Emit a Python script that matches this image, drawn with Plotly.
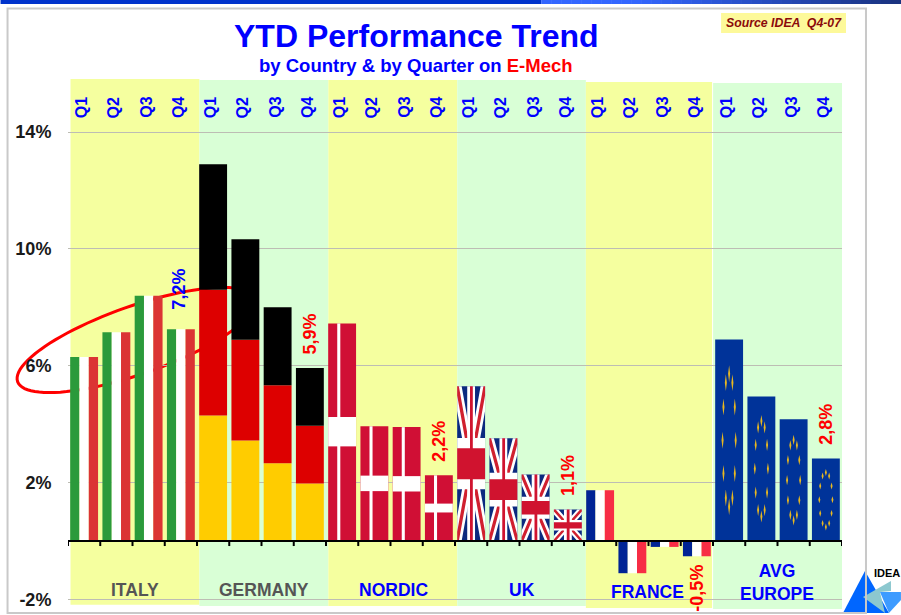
import math
import plotly.graph_objects as go

# ---------- data (YTD performance, %) ----------
quarters = ["Q1", "Q2", "Q3", "Q4"]
countries = ["ITALY", "GERMANY", "NORDIC", "UK", "FRANCE", "AVG<br>EUROPE"]
italy = [6.3, 7.15, 8.4, 7.25]
germany = [12.9, 10.33, 8.0, 5.92]
nordic = [7.45, 3.93, 3.9, 2.25]
uk = [5.3, 3.52, 2.28, 1.08]
france = [1.74, -1.1, -0.2, -0.52]
europe = [6.9, 4.95, 4.17, 2.83]
value_labels = ["7,2%", "5,9%", "2,2%", "1,1%", "-0,5%", "2,8%"]
label_colors = ["#0000ff", "#ff0000", "#ff0000", "#ff0000", "#ff0000", "#ff0000"]
y_ticks = [14, 10, 6, 2, -2]
y_tick_labels = ["14%", "10%", "6%", "2%", "-2%"]

# ---------- styling / layout constants ----------
W, H = 901, 615
L, R, T, B = 67.5, 842.0, 79.0, 609.0
Y_TOP, Y_BOT = 15.815, -2.325
BLUE = "#0000ff"
YEL, GRN = "#f5ff9f", "#d9ffd6"
BAR_W = 0.865
FONT = "Liberation Sans"


def fx(px):
    return (px - L) / (R - L)


def fy(py):
    return (B - py) / (B - T)


def rect(x0, y0, x1, y1, fill, line=None, lw=0):
    s = dict(type="rect", xref="paper", yref="paper", x0=fx(x0), x1=fx(x1),
             y0=fy(y0), y1=fy(y1), layer="below", fillcolor=fill,
             line=dict(width=lw, color=line or fill))
    return s


def poly(points, fill):
    d = "M " + " L ".join(f"{fx(a):.5f},{fy(b):.5f}" for a, b in points) + " Z"
    return dict(type="path", path=d, xref="paper", yref="paper", layer="below",
                fillcolor=fill, line=dict(width=0))


shapes = []
# top banner
shapes.append(rect(0, 0, 541, 4, "#0033cc"))
c0, c1 = (51, 102, 255), (26, 51, 128)
n = 36
for i in range(n):
    t = i / (n - 1)
    t2 = max(0, (t - 0.25) / 0.75)
    col = "rgb(%d,%d,%d)" % tuple(round(a + (b - a) * t2) for a, b in zip(c0, c1))
    shapes.append(rect(541 + i * 360 / n, 0, 541 + (i + 1) * 360 / n + 0.5, 4, col))

# background bands per country
bands = [(70, 199, 79, 604.7, YEL), (199, 328, 80, 606, GRN), (328, 457, 80, 606, YEL),
         (457, 585.7, 80, 606, GRN), (585.7, 712, 82, 608, YEL), (713, 842, 83, 609, GRN)]
for x0, x1, y0, y1, c in bands:
    shapes.append(rect(x0, y0, x1, y1, c))

# highlight ellipse (behind bars)
cx, cy, ra, rb, rot = 136, 340, 126, 34, math.radians(19.3)
pts = []
for k in range(96):
    a = 2 * math.pi * k / 96
    ex, ey = ra * math.cos(a), rb * math.sin(a)
    pts.append((cx + ex * math.cos(rot) + ey * math.sin(rot),
                cy - ex * math.sin(rot) + ey * math.cos(rot)))
ell = poly(pts, "rgba(0,0,0,0)")
ell["line"] = dict(width=3, color="#ff0000")
shapes.append(ell)

# logo
shapes.append(poly([(865, 571), (843, 613), (889, 613)], "#0066ff"))
shapes.append(poly([(880, 592), (901, 592), (901, 600), (889, 613)], "#3d9bff"))
shapes.append(poly([(891, 581), (863, 597), (885, 613), (880, 592), (891, 591)], "#8cc8cf"))
# frame
shapes.append(dict(type="rect", xref="paper", yref="paper", x0=fx(7), x1=fx(866), y0=fy(8.5), y1=fy(613),
                   layer="below", line=dict(width=2, color="#c9c9c9"), fillcolor="rgba(0,0,0,0)"))
# source box
shapes.append(rect(721, 13, 846, 33, "#fdf99a"))

fig = go.Figure()


def bar(xs, vals, color, frac0=0.0, frac1=1.0, u0=0.0, u1=1.0, name=""):
    """Bar part spanning a fraction of the value height and of the bar width."""
    fig.add_trace(go.Bar(
        x=xs, y=[v * (frac1 - frac0) for v in vals], base=[v * frac0 for v in vals],
        width=BAR_W * (u1 - u0), offset=-BAR_W / 2 + BAR_W * u0,
        marker=dict(color=color, line=dict(width=0)), name=name, showlegend=False, hoverinfo="skip"))


xi = list(range(0, 4))
xg = list(range(4, 8))
xn = list(range(8, 12))
xu = list(range(12, 16))
xf = list(range(16, 20))
xe = list(range(20, 24))

# Italy flags
bar(xi, italy, "#2b9a3b", u0=0, u1=1 / 3)
bar(xi, italy, "#ffffff", u0=1 / 3, u1=2 / 3)
bar(xi, italy, "#db3434", u0=2 / 3, u1=1)
# Germany flags
bar(xg, germany, "#ffcc00", 0, 1 / 3)
bar(xg, germany, "#dd0000", 1 / 3, 2 / 3)
bar(xg, germany, "#000000", 2 / 3, 1)
# Denmark flags
bar(xn, nordic, "#d00f35")
bar(xn, nordic, "#ffffff", u0=0.325, u1=0.435)
bar(xn, nordic, "#ffffff", 0.435, 0.57)
# France flags
bar(xf, france, "#002395", u0=0, u1=1 / 3)
bar(xf, france, "#ffffff", u0=1 / 3, u1=2 / 3)
bar(xf, france, "#f72d45", u0=2 / 3, u1=1)
# UK and EU fields
bar(xu, uk, "#0b2a7f")
bar(xe, europe, "#003399")


def polys_trace(items, color):
    xs, ys = [], []
    for p in items:
        xs += [a for a, _ in p] + [p[0][0], None]
        ys += [b for _, b in p] + [p[0][1], None]
    fig.add_trace(go.Scatter(x=xs, y=ys, mode="lines", fill="toself", fillcolor=color,
                             line=dict(width=0, color=color), showlegend=False, hoverinfo="skip"))


def to_xy(i, v, pts_uv):
    return [(i - BAR_W / 2 + BAR_W * u, v * w) for u, w in pts_uv]


def diag(d):
    a = [(0, 0), (d, 0), (1, 1 - d), (1, 1), (1 - d, 1), (0, d)]
    b = [(1 - u, w) for u, w in a]
    return a, b


for d, col in [(0.16, "#ffffff"), (0.06, "#d0202f")]:
    items = []
    for i, v in zip(xu, uk):
        a, b = diag(d)
        items += [to_xy(i, v, a), to_xy(i, v, b)]
    polys_trace(items, col)


def box(u0, u1, w0, w1):
    return [(u0, w0), (u1, w0), (u1, w1), (u0, w1)]


polys_trace([p for i, v in zip(xu, uk) for p in (to_xy(i, v, box(0.36, 0.64, 0, 1)),
                                                 to_xy(i, v, box(0, 1, 0.335, 0.665)))], "#ffffff")
polys_trace([p for i, v in zip(xu, uk) for p in (to_xy(i, v, box(0.46, 0.56, 0, 1)),
                                                 to_xy(i, v, box(0, 1, 0.40, 0.60)))], "#d0132f")

# EU stars: 12 slim gold diamonds on a ring
stars = []
for i, v in zip(xe, europe):
    for k in range(12):
        a = math.radians(30 * k)
        u = 0.5 + 0.235 * math.sin(a)
        w = 0.5 + 0.33 * math.cos(a)
        c = (i - BAR_W / 2 + BAR_W * u, v * w)
        stars.append([(c[0] - 0.032, c[1]), (c[0], c[1] - v * 0.042),
                      (c[0] + 0.032, c[1]), (c[0], c[1] + v * 0.042)])
polys_trace(stars, "#e8b820")

# zero axis line and ticks
tx, ty = [-0.5, 23.5, None], [0, 0, None]
for k in range(25):
    tx += [k - 0.5, k - 0.5, None]
    ty += [0, -0.17, None]
fig.add_trace(go.Scatter(x=tx, y=ty, mode="lines", line=dict(color="#000000", width=2),
                         showlegend=False, hoverinfo="skip"))

ann = []


def note(px, py, text, size, color=BLUE, bold=True, italic=False, xanchor="center", bg=None):
    t = f"<b>{text}</b>" if bold else text
    if italic:
        t = f"<i>{t}</i>"
    ann.append(dict(xref="paper", yref="paper", x=fx(px), y=fy(py), text=t, showarrow=False,
                    xanchor=xanchor, yanchor="middle", borderpad=0,
                    font=dict(family=FONT, size=size, color=color)))


note(416, 36, "YTD Performance Trend", 32)
note(416, 65, 'by Country &amp; by Quarter on <span style="color:#ff0000">E-Mech</span>', 18.5)
note(783.5, 23, "Source IDEA  Q4-07", 12.3, color="#8b0a0a", italic=True)
note(873.5, 573, "IDEA", 11, color="#000000", xanchor="left")

# quarter labels
for k in range(24):
    ann.append(dict(x=k, y=1.0 - (107.5 - T) / (B - T), xref="x", yref="paper",
                    text=f"<b>{quarters[k % 4]}</b>", textangle=-90, showarrow=False,
                    xanchor="center", yanchor="middle", borderpad=0, xshift=-2.5,
                    font=dict(family=FONT, size=16, color=BLUE)))

# value labels on the Q4 bars
q4_x = [3, 7, 11, 15, 19, 23]
q4_v = [italy[3], germany[3], nordic[3], uk[3], france[3], europe[3]]
for x, v, s, c in zip(q4_x, q4_v, value_labels, label_colors):
    ann.append(dict(x=x, y=v, xref="x", yref="y", text=f"<b>{s}</b>", textangle=-90, showarrow=False,
                    xanchor="center", yanchor="top" if v < 0 else "bottom",
                    yshift=-7 if v < 0 else (19 if x == 3 else 13), xshift=-2 if x == 3 else 0,
                    borderpad=0, font=dict(family=FONT, size=18, color=c)))

# country labels
centres = [134.5, 263.5, 393, 521.6, 647.7, 776.7]
rows = [590, 590, 590, 590, 592, 582]
cols = ["#555555", "#555555", BLUE, BLUE, BLUE, BLUE]
for px, py, s, c in zip(centres, rows, countries, cols):
    note(px, py, s, 17.5, color=c)

fig.update_layout(
    width=W, height=H, autosize=False,
    margin=dict(l=L, r=W - R, t=T, b=H - B, pad=0),
    paper_bgcolor="#ffffff", plot_bgcolor="rgba(0,0,0,0)",
    barmode="overlay", showlegend=False, shapes=shapes, annotations=ann,
    font=dict(family=FONT),
    xaxis=dict(range=[-0.5, 23.5], showgrid=False, zeroline=False, showticklabels=False,
               ticks="", showline=False, automargin=False, fixedrange=True),
    yaxis=dict(range=[Y_BOT, Y_TOP], tickvals=y_ticks, ticktext=[f"<b>{s}</b>" for s in y_tick_labels],
               showgrid=True, gridcolor="#bdbdb4", gridwidth=1, zeroline=False, showline=False,
               ticks="outside", ticklen=12, tickcolor="rgba(0,0,0,0)", automargin=False,
               tickfont=dict(family=FONT, size=18, color="#1a1a1a"), fixedrange=True),
)
fig.write_html("out.html", config=dict(displayModeBar=False),
               post_script="document.body.style.margin='0';document.body.style.overflow='hidden';")
